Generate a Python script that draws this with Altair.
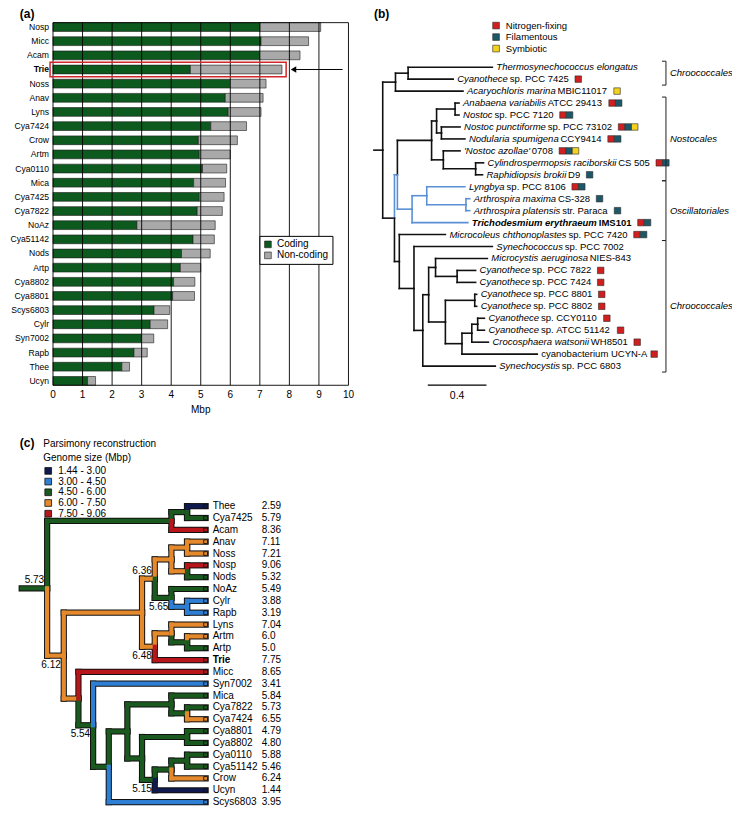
import glob
import pandas as pd
import altair as alt

# ====================== DATA ======================
# ---- panel (a): genome size split into coding / non-coding (Mbp) ----
A_NAMES = ["Nosp", "Micc", "Acam", "Trie", "Noss", "Anav", "Lyns", "Cya7424", "Crow",
           "Artm", "Cya0110", "Mica", "Cya7425", "Cya7822", "NoAz", "Cya51142", "Nods",
           "Artp", "Cya8802", "Cya8801", "Scys6803", "Cylr", "Syn7002", "Rapb", "Thee", "Ucyn"]
A_CODING = [7.00, 7.04, 6.99, 4.65, 5.98, 5.83, 5.93, 5.34, 4.92, 4.95, 5.06, 4.76, 4.95,
            4.88, 2.84, 4.74, 4.35, 4.31, 4.08, 4.05, 3.42, 3.29, 2.99, 2.74, 2.33, 1.17]
A_TOTAL = [9.06, 8.65, 8.36, 7.75, 7.21, 7.11, 7.04, 6.55, 6.24, 6.00, 5.88, 5.84, 5.79,
           5.73, 5.49, 5.46, 5.32, 5.00, 4.80, 4.79, 3.95, 3.88, 3.41, 3.19, 2.59, 1.44]
A_PARTS = ["Coding", "Non-coding"]
A_TICKS = [0, 1, 2, 3, 4, 5, 6, 7, 8, 9, 10]
A_HIGHLIGHT = "Trie"

# ---- panel (b): phylogeny (inner nodes, leaves, branch depths) ----
B_INNER = ["root", "C1", "C1a", "R", "NO", "Nost", "N1", "AN", "PN", "N2", "CRb", "Osc", "L",
           "AR", "MC", "C2", "C3", "T", "M", "C78", "W", "C88", "U", "CC", "CCY"]
B_INNER_PARENT = [None, "root", "C1", "root", "R", "NO", "Nost", "N1", "N1", "Nost", "N2", "NO",
                  "Osc", "L", "R", "MC", "C2", "C3", "T", "M", "T", "W", "W", "U", "CC"]
B_INNER_DEPTH = [0.06, 0.147, 0.233, 0.14, 0.16, 0.393, 0.427, 0.553, 0.46, 0.473, 0.693, 0.26,
                 0.36, 0.627, 0.173, 0.273, 0.333, 0.373, 0.42, 0.567, 0.487, 0.687, 0.60,
                 0.667, 0.707]
B_LEAF_ITALIC = ["Thermosynechococcus elongatus", "Cyanothece", "Acaryochloris marina",
                 "Anabaena variabilis", "Nostoc", "Nostoc punctiforme", "Nodularia spumigena",
                 "'Nostoc azollae'", "Cylindrospermopsis raciborskii", "Raphidiopsis brokii",
                 "Lyngbya", "Arthrospira maxima", "Arthrospira platensis",
                 "Trichodesmium erythraeum", "Microcoleus chthonoplastes", "Synechococcus",
                 "Microcystis aeruginosa", "Cyanothece", "Cyanothece", "Cyanothece",
                 "Cyanothece", "Cyanothece", "Cyanothece", "Crocosphaera watsonii", "",
                 "Synechocystis"]
B_LEAF_PLAIN = ["", " sp. PCC 7425", " MBIC11017", " ATCC 29413", " sp. PCC 7120",
                " sp. PCC 73102", " CCY9414", " 0708", " CS 505", " D9", " sp. PCC 8106",
                " CS-328", " str. Paraca", " IMS101", " sp. PCC 7420", " sp. PCC 7002",
                " NIES-843", " sp. PCC 7822", " sp. PCC 7424", " sp. PCC 8801", " sp. PCC 8802",
                " sp. CCY0110", " sp. ATCC 51142", " WH8501", "cyanobacterium UCYN-A",
                " sp. PCC 6803"]
B_LEAF_PARENT = ["C1a", "C1a", "C1", "AN", "AN", "PN", "PN", "N2", "CRb", "CRb", "L", "AR",
                 "AR", "Osc", "MC", "C2", "M", "C78", "C78", "C88", "C88", "CCY", "CCY", "CC",
                 "U", "C3"]
B_LEAF_DEPTH = [0.807, 0.54, 0.607, 0.58, 0.58, 0.587, 0.62, 0.587, 0.747, 0.74, 0.62, 0.653,
                0.653, 0.64, 0.487, 0.807, 0.773, 0.693, 0.693, 0.70, 0.70, 0.753, 0.753, 0.78,
                1.113, 0.827]
B_LEAF_TRAITS = ["", "N", "S", "NF", "NF", "NFS", "NF", "NFS", "NF", "F", "NF", "F", "F", "NF",
                 "NF", "", "", "N", "N", "N", "N", "N", "N", "N", "N", ""]
B_BOLD_LEAF = 13
B_TRAIT_CODES = ["N", "F", "S"]
B_TRAIT_NAMES = ["Nitrogen-fixing", "Filamentous", "Symbiotic"]
B_CLADES = ["Chroococcales", "Nostocales", "Oscillatoriales", "Chroococcales"]
B_CLADE_FIRST = [0, 3, 10, 15]
B_CLADE_LAST = [1, 9, 14, 25]
B_SCALE_BAR = 0.4

# ---- panel (c): parsimony reconstruction of genome size ----
C_INNER = ["ROOT", "TOP", "TC", "N612", "N137", "N636", "NOS", "AN", "NN", "NC", "CR", "LT",
           "LA", "AA", "MI", "SY", "S", "M", "MC78", "C78", "W", "C88", "CU", "CCC", "CC"]
C_INNER_PARENT = [None, "ROOT", "TOP", "ROOT", "N612", "N137", "N636", "NOS", "NOS", "N636",
                  "NC", "N137", "LT", "LA", "N612", "MI", "SY", "S", "M", "MC78", "M", "W", "W",
                  "CU", "CCC"]
C_INNER_X = [26, 153, 169, 43, 123, 136, 153, 169, 169, 153, 169, 136, 153, 169, 58, 73, 89,
             108, 153, 169, 123, 169, 136, 153, 169]
C_INNER_SIZE = [5.73, 5.7, 5.5, 6.12, 6.3, 6.36, 6.8, 7.1, 6.6, 5.65, 3.6, 6.48, 6.5, 5.5, 6.3,
                5.54, 5.4, 5.6, 5.8, 5.8, 5.2, 4.8, 5.15, 5.6, 5.6]
C_LABELLED = ["ROOT", "N612", "N636", "NC", "LT", "SY", "CU"]
C_LEAF_NAMES = ["Thee", "Cya7425", "Acam", "Anav", "Noss", "Nosp", "Nods", "NoAz", "Cylr",
                "Rapb", "Lyns", "Artm", "Artp", "Trie", "Micc", "Syn7002", "Mica", "Cya7822",
                "Cya7424", "Cya8801", "Cya8802", "Cya0110", "Cya51142", "Crow", "Ucyn",
                "Scys6803"]
C_LEAF_PARENT = ["TC", "TC", "TOP", "AN", "AN", "NN", "NN", "NC", "CR", "CR", "LA", "AA", "AA",
                 "LT", "MI", "SY", "MC78", "C78", "C78", "C88", "C88", "CC", "CC", "CCC", "CU",
                 "S"]
C_LEAF_SIZE = ["2.59", "5.79", "8.36", "7.11", "7.21", "9.06", "5.32", "5.49", "3.88", "3.19",
               "7.04", "6.0", "5.0", "7.75", "8.65", "3.41", "5.84", "5.73", "6.55", "4.79",
               "4.80", "5.88", "5.46", "6.24", "1.44", "3.95"]
C_LEAF_X = 188
C_BINS = [3.0, 4.5, 6.0, 7.5]
C_CLASSES = ["1.44 - 3.00", "3.00 - 4.50", "4.50 - 6.00", "6.00 - 7.50", "7.50 - 9.06"]

# ====================== STYLE / LAYOUT ======================
A_GREEN, A_GREY = "#0d5a1f", "#a9a9a9"
B_TRAIT_COLORS = ["#d11f1f", "#1c5868", "#f3d21e"]
B_BLUE = "#5b8fd6"
C_COLORS = ["#101a4e", "#2e7fd3", "#1b5a1e", "#e58a2c", "#b8161b"]
REG = "Liberation Sans"
NBSP = "\u00a0"

_nar = []
for _pat in ["/usr/share/fonts/**/*Narrow*", "/usr/local/share/fonts/**/*Narrow*"]:
    _nar += glob.glob(_pat, recursive=True)
HAS_NARROW = any("LiberationSansNarrow" in p.replace("-", "").replace(" ", "") for p in _nar)
if HAS_NARROW:
    LBL_FONT, FAC, A_FS, B_FS = "Liberation Sans Narrow", 0.82, 10.0, 11.5
else:
    LBL_FONT, FAC, A_FS, B_FS = REG, 1.0, 8.6, 9.5

W, H = 724, 801
KX = W / 740.0
KY = H / 812.0


def vx(x):
    return x * KX


def vy(y):
    return (y - 6) * KY


# Arial-metric advance widths (per 1000 em)
AW = {c: 556 for c in "0123456789"}
AW.update({" ": 278, NBSP: 278, "'": 191, "-": 333, ".": 278, ",": 278, "(": 333, ")": 333})
AW.update(dict(zip("ABCDEFGHIJKLMNOPQRSTUVWXYZ",
                   [667, 667, 722, 722, 667, 611, 778, 722, 278, 500, 667, 556, 833, 722, 778,
                    667, 778, 722, 667, 611, 722, 667, 944, 667, 667, 611])))
AW.update(dict(zip("abcdefghijklmnopqrstuvwxyz",
                   [556, 556, 500, 556, 556, 278, 556, 556, 222, 222, 500, 222, 833, 556, 556,
                    556, 556, 333, 500, 278, 556, 500, 722, 500, 500, 500])))
BW = {c: 556 for c in "0123456789"}
BW.update({" ": 278, NBSP: 278, "'": 238, "-": 333, ".": 278, ",": 278})
BW.update(dict(zip("ABCDEFGHIJKLMNOPQRSTUVWXYZ",
                   [722, 722, 722, 722, 667, 611, 778, 722, 278, 556, 722, 611, 833, 722, 778,
                    667, 778, 722, 667, 611, 722, 667, 944, 667, 667, 611])))
BW.update(dict(zip("abcdefghijklmnopqrstuvwxyz",
                   [556, 611, 556, 611, 556, 333, 611, 611, 278, 278, 556, 278, 889, 611, 611,
                    611, 611, 389, 556, 333, 611, 556, 778, 556, 556, 500])))


def text_w(s, size, bold=False):
    tab = BW if bold else AW
    return sum(tab.get(ch, 556) for ch in s) * size / 1000.0 * FAC


def sc(domain, rng):
    return alt.Scale(domain=domain, range=rng, nice=False, zero=False)


XA = sc([0, 10], [vx(46), vx(348)])
YA = sc([0, 25], [vy(25.3), vy(384)])
XB = sc([0, 2.4], [vx(374), vx(734)])
YB = sc([0, 25], [vy(66), vy(369)])
XC = sc([0, 188], [vx(14), vx(202)])
YC = sc([0, 25], [vy(511), vy(811)])
PXU_B = (vx(734) - vx(374)) / 2.4


def Xq(f, s):
    return alt.X(f"{f}:Q", scale=s, axis=None)


def Yq(f, s):
    return alt.Y(f"{f}:Q", scale=s, axis=None)


layers = []


def note(text, x, y, size=10, weight="normal", align="left", font=REG, style="normal"):
    return alt.Chart(pd.DataFrame({"t": [text]})).mark_text(
        align=align, baseline="middle", fontSize=size, fontWeight=weight, font=font,
        fontStyle=style, color="black").encode(x=alt.value(vx(x)), y=alt.value(max(vy(y), 6)),
                                               text="t:N")


# ====================== PANEL (a) ======================
BH = 0.31
NA = len(A_NAMES)
rows = []
for i, n in enumerate(A_NAMES):
    rows.append(dict(name=n, part=A_PARTS[0], x0=0.0, x1=A_CODING[i], y0=i - BH, y1=i + BH))
    rows.append(dict(name=n, part=A_PARTS[1], x0=A_CODING[i], x1=A_TOTAL[i], y0=i - BH,
                     y1=i + BH))
dfa = pd.DataFrame(rows)

layers.append(alt.Chart(dfa).mark_rect(stroke="#1c1c1c", strokeWidth=0.6).encode(
    x=Xq("x0", XA), x2="x1", y=Yq("y0", YA), y2="y1",
    color=alt.Color("part:N", scale=alt.Scale(domain=A_PARTS, range=[A_GREEN, A_GREY]),
                    legend=alt.Legend(orient="none", legendX=vx(257), legendY=vy(237),
                                      title=None, symbolType="square", symbolSize=45,
                                      symbolStrokeColor="#1c1c1c", symbolStrokeWidth=0.6,
                                      strokeColor="black", fillColor="white", padding=3.5,
                                      labelFont=REG, labelFontSize=10, labelColor="black",
                                      rowPadding=1, labelOffset=4))))

grid = pd.DataFrame({"t": A_TICKS, "y0": -BH, "y1": NA - 1 + BH})
layers.append(alt.Chart(grid).mark_rule(color="black", strokeWidth=0.9).encode(
    x=Xq("t", XA), y=Yq("y0", YA), y2="y1"))
frame = pd.DataFrame({"y": [-BH, NA - 1 + BH], "x0": A_TICKS[0], "x1": A_TICKS[-1]})
layers.append(alt.Chart(frame).mark_rule(color="black", strokeWidth=0.9).encode(
    x=Xq("x0", XA), x2="x1", y=Yq("y", YA)))
layers.append(alt.Chart(grid).mark_text(fontSize=10, font=REG, baseline="middle", dy=10,
                                        color="black").encode(
    x=Xq("t", XA), y=Yq("y1", YA), text="t:N"))
layers.append(alt.Chart(pd.DataFrame({"t": ["Mbp"], "x": [5.0], "y": [NA - 1 + BH]})).mark_text(
    fontSize=10, font=REG, baseline="middle", dy=25, color="black").encode(
    x=Xq("x", XA), y=Yq("y", YA), text="t:N"))

ylab = pd.DataFrame({"name": A_NAMES, "i": list(range(NA)), "x": 0.0})
layers.append(alt.Chart(ylab[ylab.name != A_HIGHLIGHT]).mark_text(
    align="right", baseline="middle", dx=-4, fontSize=A_FS, font=LBL_FONT, color="black").encode(
    x=Xq("x", XA), y=Yq("i", YA), text="name:N"))
layers.append(alt.Chart(ylab[ylab.name == A_HIGHLIGHT]).mark_text(
    align="right", baseline="middle", dx=-4, fontSize=A_FS, font=LBL_FONT, fontWeight="bold",
    color="black").encode(x=Xq("x", XA), y=Yq("i", YA), text="name:N"))

hi = A_NAMES.index(A_HIGHLIGHT)
hl = pd.DataFrame({"x0": [-0.1], "x1": [A_TOTAL[hi] + 0.14], "y0": [hi - 0.52],
                   "y1": [hi + 0.52]})
layers.append(alt.Chart(hl).mark_rect(fillOpacity=0, stroke="#d3262a", strokeWidth=1.5).encode(
    x=Xq("x0", XA), x2="x1", y=Yq("y0", YA), y2="y1"))
arrow = pd.DataFrame({"x0": [9.8], "x1": [8.2], "xh": [8.14], "y": [hi]})
layers.append(alt.Chart(arrow).mark_rule(color="black", strokeWidth=1).encode(
    x=Xq("x0", XA), x2="x1", y=Yq("y", YA)))
layers.append(alt.Chart(arrow).mark_point(shape="triangle-left", filled=True, size=40,
                                          color="black", opacity=1).encode(
    x=Xq("xh", XA), y=Yq("y", YA)))
layers.append(note("(a)", 12, 9, size=12, weight="bold"))

# ====================== PANEL (b) ======================
b_parent = dict(zip(B_INNER, B_INNER_PARENT))
b_depth = dict(zip(B_INNER, B_INNER_DEPTH))
leaf_ids = [f"leaf{i}" for i in range(len(B_LEAF_ITALIC))]
b_y = {}
for i, lid in enumerate(leaf_ids):
    b_parent[lid] = B_LEAF_PARENT[i]
    b_depth[lid] = B_LEAF_DEPTH[i]
    b_y[lid] = i
b_children = {}
for n, p in b_parent.items():
    if p is not None:
        b_children.setdefault(p, []).append(n)


def b_pos(n):
    if n not in b_y:
        ys = [b_pos(c) for c in b_children[n]]
        b_y[n] = (min(ys) + max(ys)) / 2.0
    return b_y[n]


b_pos("root")


def b_desc(n):
    out = [n]
    for c in b_children.get(n, []):
        out += b_desc(c)
    return out


blue = set(["NO"]) | set(b_desc("Osc"))
segs = [dict(x0=0.0, x1=b_depth["root"], y0=b_y["root"], y1=b_y["root"], c="k")]
for n, p in b_parent.items():
    if p is None:
        continue
    col = "b" if n in blue else "k"
    segs.append(dict(x0=b_depth[p], x1=b_depth[n], y0=b_y[n], y1=b_y[n], c=col))
    segs.append(dict(x0=b_depth[p], x1=b_depth[p], y0=b_y[p], y1=b_y[n], c=col))
dfb = pd.DataFrame(segs)
layers.append(alt.Chart(dfb).mark_rule(strokeWidth=1.6, strokeCap="square").encode(
    x=Xq("x0", XB), x2="x1", y=Yq("y0", YB), y2="y1",
    color=alt.Color("c:N", scale=alt.Scale(domain=["k", "b"], range=["#111111", B_BLUE]),
                    legend=None)))

GAP = 4.0
PART_GAP = 1.8
lab_it, lab_pl, sq = [], [], []
for i in range(len(leaf_ids)):
    bold = i == B_BOLD_LEAF
    tip = B_LEAF_DEPTH[i]
    it = B_LEAF_ITALIC[i]
    pl = B_LEAF_PLAIN[i].replace(" ", NBSP)
    w_it = text_w(it, B_FS, bold) + (PART_GAP if it else 0.0)
    w_pl = text_w(pl, B_FS, bold)
    if it:
        lab_it.append(dict(t=it, x=tip + GAP / PXU_B, y=i, bold=bold))
    if pl:
        lab_pl.append(dict(t=pl, x=tip + (GAP + w_it) / PXU_B, y=i, bold=bold))
    for k, code in enumerate(B_LEAF_TRAITS[i]):
        sq.append(dict(trait=B_TRAIT_NAMES[B_TRAIT_CODES.index(code)],
                       x=tip + (GAP + w_it + w_pl + 3.5 + 3.3 + 6.6 * k) / PXU_B, y=i))
dit, dpl = pd.DataFrame(lab_it), pd.DataFrame(lab_pl)
for df, style in [(dit, "italic"), (dpl, "normal")]:
    for bold in [False, True]:
        sub = df[df.bold == bold]
        layers.append(alt.Chart(sub).mark_text(
            align="left", baseline="middle", fontSize=B_FS, font=LBL_FONT, fontStyle=style,
            fontWeight="bold" if bold else "normal", color="black").encode(
            x=Xq("x", XB), y=Yq("y", YB), text="t:N"))

layers.append(alt.Chart(pd.DataFrame(sq)).mark_square(
    size=42, filled=True, stroke="#2a2a2a", strokeWidth=0.6, opacity=1).encode(
    x=Xq("x", XB), y=Yq("y", YB),
    color=alt.Color("trait:N", scale=alt.Scale(domain=B_TRAIT_NAMES, range=B_TRAIT_COLORS),
                    legend=alt.Legend(orient="none", legendX=vx(494), legendY=vy(19),
                                      title=None, symbolType="square", symbolSize=45,
                                      symbolStrokeColor="#2a2a2a", symbolStrokeWidth=0.6,
                                      labelFont=LBL_FONT, labelFontSize=B_FS,
                                      labelColor="black", rowPadding=0.5, padding=0,
                                      labelOffset=5))))

BRX = 1.99
TICK = 4.0 / PXU_B
br_v, br_t, br_l = [], [], []
for name, f, l in zip(B_CLADES, B_CLADE_FIRST, B_CLADE_LAST):
    br_v.append(dict(x=BRX, y0=f - 0.5, y1=l + 0.5))
    br_t.append(dict(x0=BRX - TICK, x1=BRX, y=f - 0.5))
    br_t.append(dict(x0=BRX - TICK, x1=BRX, y=l + 0.5))
    br_l.append(dict(t=name, x=BRX + TICK, y=(f + l) / 2.0))
layers.append(alt.Chart(pd.DataFrame(br_v)).mark_rule(color="#222", strokeWidth=1).encode(
    x=Xq("x", XB), y=Yq("y0", YB), y2="y1"))
layers.append(alt.Chart(pd.DataFrame(br_t)).mark_rule(color="#222", strokeWidth=1).encode(
    x=Xq("x0", XB), x2="x1", y=Yq("y", YB)))
layers.append(alt.Chart(pd.DataFrame(br_l)).mark_text(
    align="left", baseline="middle", fontSize=B_FS, font=LBL_FONT, fontStyle="italic",
    color="black").encode(x=Xq("x", XB), y=Yq("y", YB), text="t:N"))

sb = pd.DataFrame({"x0": [0.367], "x1": [0.367 + B_SCALE_BAR], "xm": [0.367 + B_SCALE_BAR / 2],
                   "y": [26.6], "t": [str(B_SCALE_BAR)]})
layers.append(alt.Chart(sb).mark_rule(color="black", strokeWidth=1.2).encode(
    x=Xq("x0", XB), x2="x1", y=Yq("y", YB)))
layers.append(alt.Chart(sb).mark_text(fontSize=10.5, font=REG, baseline="middle", dy=11,
                                      color="black").encode(
    x=Xq("xm", XB), y=Yq("y", YB), text="t:N"))
layers.append(note("(b)", 374, 9, size=12, weight="bold"))

# ====================== PANEL (c) ======================
c_parent = dict(zip(C_INNER, C_INNER_PARENT))
c_x = dict(zip(C_INNER, C_INNER_X))
c_val = dict(zip(C_INNER, C_INNER_SIZE))
c_y = {}
for i, n in enumerate(C_LEAF_NAMES):
    c_parent[n] = C_LEAF_PARENT[i]
    c_x[n] = C_LEAF_X
    c_val[n] = float(C_LEAF_SIZE[i])
    c_y[n] = i
c_children = {}
for n, p in c_parent.items():
    if p is not None:
        c_children.setdefault(p, []).append(n)


def c_pos(n):
    if n not in c_y:
        ys = [c_pos(c) for c in c_children[n]]
        c_y[n] = (min(ys) + max(ys)) / 2.0
    return c_y[n]


c_pos("ROOT")


def cls(v):
    return C_CLASSES[sum(v >= t for t in C_BINS)]


cs = [dict(x0=0, x1=c_x["ROOT"], y0=c_y["ROOT"], y1=c_y["ROOT"], c=cls(c_val["ROOT"]))]
for n, p in c_parent.items():
    if p is None:
        continue
    cs.append(dict(x0=c_x[p], x1=c_x[n], y0=c_y[n], y1=c_y[n], c=cls(c_val[n])))
    cs.append(dict(x0=c_x[p], x1=c_x[p], y0=c_y[p], y1=c_y[n], c=cls(c_val[n])))
dfc = pd.DataFrame(cs)
layers.append(alt.Chart(dfc).mark_rule(strokeWidth=6.2, strokeCap="square", color="#111").encode(
    x=Xq("x0", XC), x2="x1", y=Yq("y0", YC), y2="y1"))
layers.append(alt.Chart(dfc).mark_rule(strokeWidth=4.2, strokeCap="square").encode(
    x=Xq("x0", XC), x2="x1", y=Yq("y0", YC), y2="y1",
    color=alt.Color("c:N", scale=alt.Scale(domain=C_CLASSES, range=C_COLORS), legend=None)))

leaves = pd.DataFrame({"name": C_LEAF_NAMES, "size": C_LEAF_SIZE, "y": list(range(len(C_LEAF_NAMES))),
                       "x": C_LEAF_X, "c": [cls(float(v)) for v in C_LEAF_SIZE]})
layers.append(alt.Chart(leaves).mark_square(size=14, filled=True, stroke="#111", strokeWidth=0.9,
                                            opacity=1).encode(
    x=Xq("x", XC), y=Yq("y", YC),
    color=alt.Color("c:N", scale=alt.Scale(domain=C_CLASSES, range=C_COLORS),
                    legend=alt.Legend(orient="none", legendX=vx(36), legendY=vy(457),
                                      title="Genome size (Mbp)", titleFont=REG,
                                      titleFontSize=10, titleFontWeight="normal",
                                      titleColor="black", titlePadding=3, labelFont=REG,
                                      labelFontSize=10, labelColor="black",
                                      symbolType="square", symbolSize=45,
                                      symbolStrokeColor="#111", symbolStrokeWidth=0.8,
                                      rowPadding=0.7, padding=0, labelOffset=5))))
for bold in [False, True]:
    sub = leaves[(leaves.name == A_HIGHLIGHT) == bold]
    layers.append(alt.Chart(sub).mark_text(
        align="left", baseline="middle", dx=7, fontSize=10, font=REG,
        fontWeight="bold" if bold else "normal", color="black").encode(
        x=Xq("x", XC), y=Yq("y", YC), text="name:N"))
layers.append(alt.Chart(leaves).mark_text(
    align="left", baseline="middle", dx=56, fontSize=10, font=REG, color="black").encode(
    x=Xq("x", XC), y=Yq("y", YC), text="size:N"))

nl = []
for n in C_LABELLED:
    p = c_parent[n]
    px = 0 if p is None else c_x[p]
    nl.append(dict(t=f"{c_val[n]:.2f}", x=c_x[n], xm=(px + c_x[n]) / 2.0, y=c_y[n],
                   pos="stem" if p is None else ("above" if n == "N636" else "below")))
nl = pd.DataFrame(nl)
layers.append(alt.Chart(nl[nl.pos == "below"]).mark_text(
    align="right", baseline="middle", dx=-3, dy=9, fontSize=10, font=REG, color="black").encode(
    x=Xq("x", XC), y=Yq("y", YC), text="t:N"))
layers.append(alt.Chart(nl[nl.pos == "above"]).mark_text(
    align="right", baseline="middle", dx=-3, dy=-8, fontSize=10, font=REG, color="black").encode(
    x=Xq("x", XC), y=Yq("y", YC), text="t:N"))
layers.append(alt.Chart(nl[nl.pos == "stem"]).mark_text(
    align="center", baseline="middle", dy=-8, fontSize=10, font=REG, color="black").encode(
    x=Xq("xm", XC), y=Yq("y", YC), text="t:N"))
layers.append(note("(c)", 12, 447, size=12, weight="bold"))
layers.append(note("Parsimony reconstruction", 36, 448, size=10))

chart = alt.layer(*layers).resolve_scale(
    x="independent", y="independent", color="independent"
).properties(width=W, height=H, padding=0, autosize="none", background="white"
             ).configure_view(strokeWidth=0)

chart.save("out.html", embed_options={"renderer": "svg", "actions": False})
